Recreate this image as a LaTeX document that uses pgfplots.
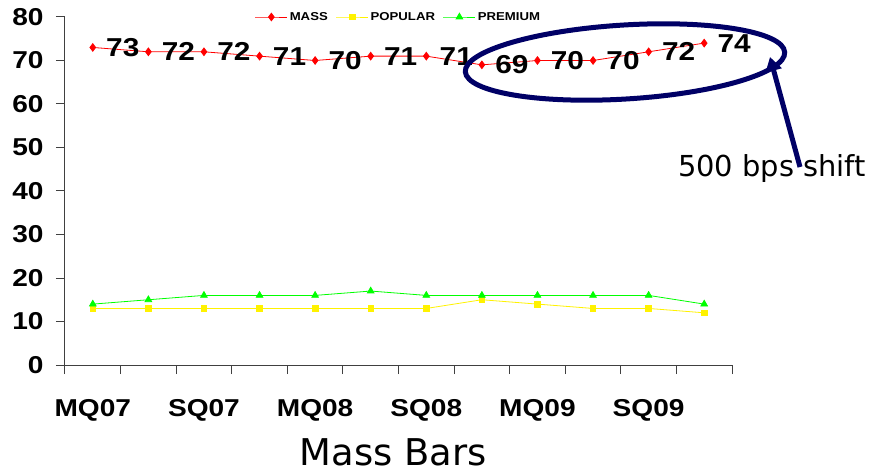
\documentclass[border=0pt]{standalone}
\usepackage{fontspec}
\setmainfont{Liberation Sans}[FakeStretch=1.15]
\newfontfamily\dejavu{DejaVu Sans}
\usepackage{pgfplots}
\pgfplotsset{compat=1.18}
\usetikzlibrary{arrows.meta}
\definecolor{navyc}{RGB}{0,0,102}
\begin{document}
\begin{tikzpicture}[x=1bp,y=1bp]
\useasboundingbox (-65bp,-108bp) rectangle (806bp,365bp);
\begin{axis}[
  at={(0bp,0bp)}, anchor=south west,
  scale only axis, width=667bp, height=348bp,
  xmin=-0.5, xmax=11.5, ymin=0, ymax=80,
  axis lines=left,
  axis line style={-, black!75, line width=1bp},
  ytick={0,10,...,80},
  xtick={-0.5,0.5,...,11.5}, xticklabels={},
  extra x ticks={0,2,4,6,8,10},
  extra x tick labels={MQ07,SQ07,MQ08,SQ08,MQ09,SQ09},
  extra x tick style={major tick length=0pt},
  tick align=outside,
  tick style={black!75, line width=1bp},
  major tick length=9bp,
  ticklabel style={font=\bfseries\fontsize{24.5}{24.5}\selectfont, text=black},
  /pgf/number format/assume math mode=true,
  yticklabel style={xshift=-9bp},
  xticklabel style={yshift=-31bp},
  legend style={at={(0.5,1)}, anchor=center, draw=none, fill=none,
    legend columns=-1, font=\bfseries\fontsize{11.5}{11.5}\selectfont,
    /tikz/every even column/.append style={column sep=6bp}},
  legend image code/.code={\draw[mark repeat=2,mark phase=2] plot coordinates {(0bp,0bp) (16bp,0bp) (32bp,0bp)};},
  clip=false,
]
\addplot[red, line width=0.8bp, mark=diamond*, mark size=3.8bp, mark options={solid, fill=red},
  nodes near coords,
  every node near coord/.append style={anchor=west, inner sep=0pt, xshift=13bp,
    font=\bfseries\fontsize{26}{26}\selectfont, text=black}]
  coordinates {(0,73) (1,72) (2,72) (3,71) (4,70) (5,71) (6,71) (7,69) (8,70) (9,70) (10,72) (11,74)};
\addlegendentry{MASS}
\addplot[yellow, line width=0.8bp, mark=square*, mark size=2.8bp, mark options={solid, fill=yellow}]
  coordinates {(0,13) (1,13) (2,13) (3,13) (4,13) (5,13) (6,13) (7,15) (8,14) (9,13) (10,13) (11,12)};
\addlegendentry{POPULAR}
\addplot[green, line width=0.8bp, mark=triangle*, mark size=3.8bp, mark options={solid, fill=green}]
  coordinates {(0,14) (1,15) (2,16) (3,16) (4,16) (5,17) (6,16) (7,16) (8,16) (9,16) (10,16) (11,14)};
\addlegendentry{PREMIUM}
\end{axis}
\draw[navyc, line width=5bp, rotate around={3.5:(560bp,303bp)}] (560bp,303bp) ellipse [x radius=160bp, y radius=37bp];
\draw[navyc, line width=5bp, -{Triangle[length=14bp, width=16bp]}] (735bp,198bp) -- (705bp,308bp);
\node[anchor=base west, inner sep=0pt, font=\dejavu\fontsize{29}{29}\selectfont] at (613bp,188bp) {500 bps shift};
\node[anchor=base, inner sep=0pt, font=\dejavu\fontsize{37}{37}\selectfont] at (328bp,-100bp) {Mass Bars};
\end{tikzpicture}
\end{document}
